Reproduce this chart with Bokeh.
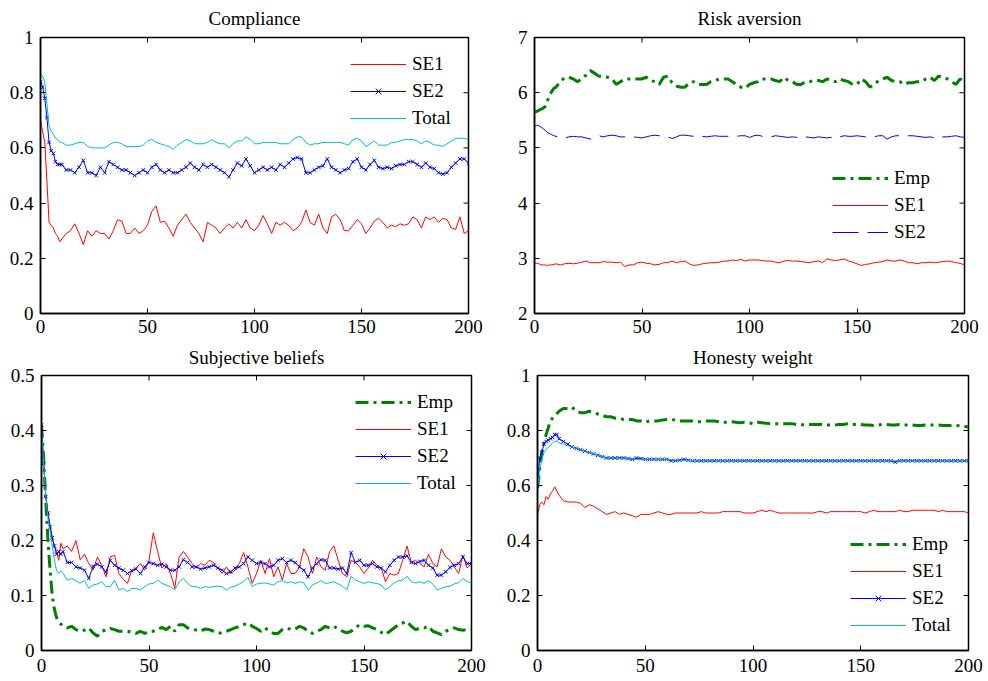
import math
from bokeh.plotting import figure
from bokeh.layouts import column, row
from bokeh.models import (Legend, LegendItem, FixedTicker,
                          CustomJSTickFormatter, Range1d)
from bokeh.embed import file_html
from bokeh.resources import INLINE

# ---------------- data ----------------
X = [0, 1, 2, 3, 4, 5, 6, 7, 8, 9, 10] + list(range(12, 201, 2))
x_ticks = [0, 50, 100, 150, 200]

# Compliance
comp_se1 = [0.70, 0.66, 0.62, 0.48, 0.33, 0.32, 0.31, 0.29, 0.28, 0.26, 0.27,
            0.29, 0.30, 0.325, 0.29, 0.25, 0.30, 0.28, 0.30, 0.29, 0.29,
            0.27, 0.30, 0.34, 0.335, 0.29, 0.29, 0.31, 0.29, 0.30, 0.32,
            0.37, 0.39, 0.33, 0.335, 0.31, 0.28, 0.32, 0.34, 0.36, 0.33,
            0.31, 0.29, 0.26, 0.33, 0.32, 0.31, 0.29, 0.31, 0.325, 0.31,
            0.33, 0.31, 0.34, 0.31, 0.30, 0.32, 0.355, 0.325, 0.29, 0.33,
            0.32, 0.33, 0.32, 0.30, 0.31, 0.33, 0.375, 0.33, 0.32, 0.36,
            0.31, 0.29, 0.35, 0.36, 0.34, 0.30, 0.30, 0.32, 0.34, 0.325,
            0.29, 0.31, 0.335, 0.345, 0.33, 0.31, 0.32, 0.315, 0.325, 0.32,
            0.325, 0.35, 0.34, 0.31, 0.35, 0.34, 0.35, 0.33, 0.345, 0.34,
            0.31, 0.305, 0.35, 0.29, 0.30]
comp_se2 = [0.84, 0.82, 0.78, 0.71, 0.62, 0.59, 0.58, 0.55, 0.54, 0.54, 0.54,
            0.52, 0.52, 0.51, 0.53, 0.555, 0.51, 0.51, 0.50, 0.53, 0.51,
            0.55, 0.54, 0.53, 0.52, 0.52, 0.51, 0.50, 0.51, 0.52, 0.51,
            0.53, 0.54, 0.52, 0.51, 0.52, 0.51, 0.51, 0.52, 0.53, 0.545,
            0.53, 0.52, 0.54, 0.53, 0.54, 0.53, 0.52, 0.51, 0.495, 0.52,
            0.545, 0.535, 0.56, 0.535, 0.51, 0.52, 0.53, 0.52, 0.53, 0.52,
            0.54, 0.53, 0.545, 0.56, 0.565, 0.56, 0.51, 0.51, 0.52, 0.53,
            0.535, 0.56, 0.53, 0.52, 0.51, 0.52, 0.525, 0.55, 0.56, 0.53,
            0.52, 0.54, 0.555, 0.53, 0.525, 0.53, 0.525, 0.535, 0.54, 0.54,
            0.55, 0.55, 0.54, 0.53, 0.545, 0.53, 0.525, 0.51, 0.505, 0.51,
            0.53, 0.545, 0.56, 0.56, 0.545]
comp_total = [0.87, 0.86, 0.84, 0.76, 0.68, 0.66, 0.65, 0.635, 0.63, 0.62, 0.62,
              0.61, 0.61, 0.615, 0.62, 0.62, 0.605, 0.60, 0.60, 0.60, 0.60,
              0.61, 0.62, 0.62, 0.615, 0.605, 0.605, 0.605, 0.605, 0.61, 0.625,
              0.63, 0.62, 0.615, 0.61, 0.605, 0.595, 0.61, 0.62, 0.63, 0.625,
              0.615, 0.615, 0.615, 0.62, 0.63, 0.62, 0.615, 0.615, 0.60, 0.615,
              0.625, 0.625, 0.64, 0.63, 0.615, 0.615, 0.62, 0.62, 0.62, 0.62,
              0.615, 0.615, 0.615, 0.63, 0.64, 0.64, 0.62, 0.61, 0.615, 0.615,
              0.62, 0.62, 0.62, 0.62, 0.62, 0.615, 0.61, 0.63, 0.635, 0.625,
              0.605, 0.615, 0.625, 0.61, 0.61, 0.61, 0.62, 0.62, 0.625, 0.63,
              0.63, 0.63, 0.625, 0.615, 0.625, 0.62, 0.61, 0.61, 0.605, 0.615,
              0.625, 0.635, 0.635, 0.635, 0.63]
comp_yticks = [0, 0.2, 0.4, 0.6, 0.8, 1]

# Risk aversion
risk_emp = [5.65, 5.66, 5.68, 5.70, 5.72, 5.75, 5.85, 5.95, 6.02, 6.08, 6.10,
            6.20, 6.27, 6.28, 6.25, 6.20, 6.25, 6.32, 6.40, 6.35, 6.30,
            6.30, 6.28, 6.25, 6.15, 6.20, 6.25, 6.25, 6.25, 6.25, 6.25,
            6.28, 6.22, 6.20, 6.15, 6.28, 6.30, 6.18, 6.12, 6.10, 6.10,
            6.18, 6.20, 6.15, 6.15, 6.15, 6.20, 6.22, 6.25, 6.25, 6.25,
            6.20, 6.15, 6.10, 6.08, 6.15, 6.18, 6.20, 6.25, 6.25, 6.25,
            6.22, 6.20, 6.28, 6.22, 6.20, 6.15, 6.15, 6.20, 6.20, 6.22,
            6.22, 6.20, 6.25, 6.22, 6.20, 6.25, 6.22, 6.20, 6.15, 6.15,
            6.25, 6.20, 6.10, 6.15, 6.22, 6.25, 6.28, 6.22, 6.20, 6.20,
            6.15, 6.18, 6.18, 6.20, 6.20, 6.25, 6.28, 6.22, 6.30, 6.28,
            6.25, 6.20, 6.15, 6.25, 6.20]
risk_se1 = [2.92, 2.91, 2.90, 2.88, 2.88, 2.88, 2.87, 2.88, 2.88, 2.89, 2.90,
            2.88, 2.90, 2.91, 2.90, 2.91, 2.93, 2.95, 2.92, 2.92, 2.92,
            2.94, 2.93, 2.93, 2.92, 2.93, 2.85, 2.88, 2.88, 2.92, 2.93,
            2.91, 2.90, 2.88, 2.89, 2.92, 2.92, 2.95, 2.92, 2.94, 2.95,
            2.90, 2.87, 2.88, 2.90, 2.91, 2.92, 2.92, 2.93, 2.95, 2.95,
            2.97, 2.96, 2.98, 2.95, 2.97, 2.97, 2.97, 2.96, 2.95, 2.95,
            2.93, 2.92, 2.95, 2.96, 2.95, 2.95, 2.94, 2.93, 2.92, 2.94,
            2.95, 2.92, 2.99, 2.97, 2.96, 2.97, 2.99, 2.95, 2.93, 2.90,
            2.87, 2.89, 2.90, 2.92, 2.93, 2.94, 2.97, 2.95, 2.95, 2.97,
            2.95, 2.92, 2.92, 2.90, 2.92, 2.92, 2.93, 2.92, 2.93, 2.94,
            2.95, 2.94, 2.92, 2.91, 2.88]
risk_se2 = [5.40, 5.41, 5.40, 5.38, 5.35, 5.32, 5.28, 5.26, 5.24, 5.22, 5.21,
            5.18, 5.18, 5.20, 5.21, 5.20, 5.20, 5.18, 5.16, 5.20, 5.22,
            5.20, 5.22, 5.23, 5.22, 5.20, 5.20, 5.21, 5.20, 5.19, 5.18,
            5.20, 5.22, 5.23, 5.22, 5.22, 5.20, 5.17, 5.20, 5.23, 5.23,
            5.22, 5.21, 5.20, 5.21, 5.20, 5.21, 5.22, 5.21, 5.21, 5.21,
            5.21, 5.21, 5.22, 5.22, 5.19, 5.22, 5.23, 5.21, 5.20, 5.20,
            5.22, 5.21, 5.20, 5.19, 5.20, 5.19, 5.18, 5.20, 5.19, 5.18,
            5.20, 5.19, 5.18, 5.19, 5.17, 5.20, 5.22, 5.21, 5.21, 5.22,
            5.21, 5.20, 5.19, 5.20, 5.22, 5.22, 5.16, 5.20, 5.22, 5.22,
            5.23, 5.22, 5.22, 5.21, 5.20, 5.19, 5.20, 5.18, 5.17, 5.20,
            5.20, 5.21, 5.22, 5.20, 5.19]
risk_yticks = [2, 3, 4, 5, 6, 7]

# Subjective beliefs
subj_emp = [0.41, 0.35, 0.27, 0.20, 0.145, 0.10, 0.075, 0.06, 0.052, 0.048, 0.045,
            0.041, 0.044, 0.038, 0.035, 0.037, 0.041, 0.032, 0.026, 0.035, 0.037,
            0.040, 0.038, 0.035, 0.035, 0.035, 0.033, 0.031, 0.035, 0.031, 0.035,
            0.035, 0.038, 0.042, 0.038, 0.044, 0.035, 0.047, 0.047, 0.041, 0.039,
            0.037, 0.035, 0.039, 0.038, 0.035, 0.032, 0.032, 0.035, 0.038, 0.041,
            0.044, 0.047, 0.050, 0.044, 0.040, 0.035, 0.041, 0.035, 0.031, 0.031,
            0.038, 0.041, 0.038, 0.039, 0.044, 0.041, 0.035, 0.031, 0.035, 0.038,
            0.044, 0.041, 0.044, 0.039, 0.035, 0.032, 0.035, 0.041, 0.047, 0.044,
            0.045, 0.041, 0.038, 0.033, 0.029, 0.035, 0.041, 0.047, 0.050, 0.053,
            0.044, 0.038, 0.041, 0.041, 0.044, 0.035, 0.032, 0.029, 0.035, 0.038,
            0.041, 0.038, 0.037, 0.038, 0.038]
subj_se1 = [0.41, 0.34, 0.28, 0.25, 0.225, 0.205, 0.19, 0.18, 0.164, 0.195, 0.185,
            0.19, 0.18, 0.20, 0.165, 0.175, 0.158, 0.146, 0.17, 0.155, 0.134,
            0.17, 0.173, 0.14, 0.13, 0.122, 0.146, 0.15, 0.158, 0.146, 0.164,
            0.214, 0.18, 0.15, 0.158, 0.14, 0.113, 0.17, 0.18, 0.17, 0.158,
            0.15, 0.158, 0.155, 0.164, 0.16, 0.15, 0.14, 0.152, 0.14, 0.146,
            0.158, 0.178, 0.152, 0.122, 0.14, 0.164, 0.14, 0.167, 0.134, 0.152,
            0.128, 0.158, 0.14, 0.14, 0.152, 0.185, 0.17, 0.14, 0.17, 0.152,
            0.146, 0.18, 0.19, 0.164, 0.14, 0.134, 0.164, 0.16, 0.152, 0.14,
            0.15, 0.164, 0.155, 0.15, 0.125, 0.14, 0.137, 0.14, 0.164, 0.19,
            0.16, 0.164, 0.158, 0.152, 0.175, 0.158, 0.152, 0.185, 0.17, 0.164,
            0.152, 0.14, 0.173, 0.15, 0.158]
subj_se2 = [0.41, 0.34, 0.28, 0.25, 0.225, 0.205, 0.19, 0.175, 0.18, 0.175, 0.18,
            0.16, 0.16, 0.152, 0.15, 0.146, 0.131, 0.153, 0.157, 0.152, 0.143,
            0.164, 0.155, 0.15, 0.146, 0.14, 0.145, 0.148, 0.14, 0.152, 0.16,
            0.158, 0.155, 0.157, 0.152, 0.146, 0.146, 0.152, 0.165, 0.16, 0.152,
            0.152, 0.148, 0.15, 0.152, 0.155, 0.15, 0.146, 0.14, 0.143, 0.15,
            0.152, 0.158, 0.17, 0.164, 0.158, 0.16, 0.158, 0.152, 0.155, 0.164,
            0.167, 0.16, 0.164, 0.16, 0.152, 0.146, 0.134, 0.15, 0.158, 0.165,
            0.164, 0.15, 0.15, 0.148, 0.15, 0.14, 0.178, 0.16, 0.164, 0.155,
            0.155, 0.158, 0.152, 0.15, 0.143, 0.155, 0.164, 0.17, 0.17, 0.172,
            0.16, 0.158, 0.162, 0.164, 0.155, 0.15, 0.137, 0.137, 0.143, 0.151,
            0.155, 0.158, 0.17, 0.158, 0.158]
subj_total = [0.40, 0.34, 0.28, 0.24, 0.215, 0.19, 0.165, 0.145, 0.14, 0.145, 0.14,
              0.128, 0.131, 0.127, 0.122, 0.127, 0.113, 0.119, 0.121, 0.125, 0.116,
              0.116, 0.128, 0.11, 0.113, 0.107, 0.113, 0.113, 0.11, 0.116, 0.121,
              0.122, 0.128, 0.122, 0.119, 0.116, 0.11, 0.125, 0.131, 0.122, 0.116,
              0.116, 0.113, 0.116, 0.115, 0.116, 0.117, 0.116, 0.11, 0.115, 0.117,
              0.121, 0.125, 0.133, 0.116, 0.121, 0.122, 0.123, 0.121, 0.119, 0.125,
              0.127, 0.123, 0.125, 0.122, 0.125, 0.123, 0.11, 0.119, 0.123, 0.127,
              0.122, 0.123, 0.125, 0.121, 0.117, 0.11, 0.135, 0.128, 0.125, 0.122,
              0.125, 0.123, 0.122, 0.119, 0.11, 0.116, 0.123, 0.127, 0.128, 0.135,
              0.125, 0.123, 0.125, 0.122, 0.127, 0.121, 0.11, 0.113, 0.116, 0.117,
              0.121, 0.123, 0.131, 0.125, 0.123]
subj_yticks = [0, 0.1, 0.2, 0.3, 0.4, 0.5]

# Honesty weight
hon_emp = [0.59, 0.66, 0.72, 0.755, 0.785, 0.81, 0.835, 0.845, 0.855, 0.862, 0.87,
           0.88, 0.88, 0.885, 0.87, 0.865, 0.865, 0.87, 0.865, 0.86, 0.855,
           0.85, 0.85, 0.845, 0.845, 0.84, 0.84, 0.84, 0.835, 0.835, 0.83,
           0.835, 0.835, 0.835, 0.838, 0.84, 0.84, 0.838, 0.835, 0.835, 0.835,
           0.835, 0.832, 0.832, 0.835, 0.835, 0.835, 0.832, 0.83, 0.83, 0.832,
           0.83, 0.828, 0.83, 0.828, 0.825, 0.83, 0.828, 0.826, 0.825, 0.825,
           0.825, 0.825, 0.825, 0.825, 0.822, 0.822, 0.82, 0.822, 0.822, 0.822,
           0.822, 0.82, 0.82, 0.82, 0.822, 0.822, 0.825, 0.822, 0.822, 0.822,
           0.82, 0.82, 0.818, 0.82, 0.822, 0.822, 0.82, 0.82, 0.822, 0.82,
           0.82, 0.82, 0.818, 0.818, 0.82, 0.82, 0.82, 0.82, 0.818, 0.818,
           0.818, 0.818, 0.817, 0.815, 0.813]
hon_se1 = [0.49, 0.53, 0.54, 0.53, 0.56, 0.55, 0.57, 0.58, 0.595, 0.58, 0.565,
           0.545, 0.54, 0.54, 0.54, 0.535, 0.52, 0.53, 0.525, 0.515, 0.505,
           0.495, 0.50, 0.505, 0.495, 0.50, 0.495, 0.49, 0.485, 0.495, 0.495,
           0.495, 0.50, 0.505, 0.50, 0.495, 0.495, 0.50, 0.50, 0.50, 0.50,
           0.50, 0.50, 0.505, 0.50, 0.50, 0.50, 0.50, 0.505, 0.505, 0.505,
           0.505, 0.505, 0.50, 0.50, 0.50, 0.505, 0.51, 0.505, 0.51, 0.505,
           0.50, 0.50, 0.50, 0.50, 0.50, 0.50, 0.50, 0.50, 0.50, 0.505,
           0.505, 0.50, 0.505, 0.505, 0.505, 0.505, 0.505, 0.505, 0.505, 0.505,
           0.50, 0.505, 0.51, 0.505, 0.505, 0.505, 0.505, 0.505, 0.51, 0.505,
           0.505, 0.51, 0.51, 0.51, 0.51, 0.51, 0.51, 0.505, 0.51, 0.505,
           0.505, 0.505, 0.505, 0.505, 0.50]
hon_se2 = [0.60, 0.70, 0.72, 0.75, 0.76, 0.765, 0.77, 0.775, 0.785, 0.785, 0.77,
           0.76, 0.75, 0.74, 0.735, 0.73, 0.725, 0.72, 0.715, 0.71, 0.705,
           0.70, 0.70, 0.70, 0.70, 0.70, 0.698, 0.695, 0.70, 0.698, 0.695,
           0.695, 0.695, 0.695, 0.695, 0.695, 0.69, 0.69, 0.692, 0.695, 0.692,
           0.69, 0.69, 0.69, 0.69, 0.69, 0.69, 0.69, 0.69, 0.69, 0.69,
           0.69, 0.69, 0.69, 0.69, 0.69, 0.69, 0.69, 0.69, 0.69, 0.69,
           0.69, 0.69, 0.69, 0.69, 0.69, 0.69, 0.69, 0.69, 0.69, 0.69,
           0.69, 0.69, 0.69, 0.69, 0.69, 0.69, 0.69, 0.69, 0.69, 0.69,
           0.69, 0.69, 0.69, 0.69, 0.69, 0.69, 0.69, 0.685, 0.69, 0.69,
           0.69, 0.69, 0.69, 0.69, 0.69, 0.69, 0.69, 0.69, 0.69, 0.69,
           0.69, 0.69, 0.69, 0.69, 0.69]
hon_total = [0.58, 0.66, 0.69, 0.72, 0.73, 0.74, 0.745, 0.755, 0.76, 0.76, 0.755,
             0.75, 0.745, 0.74, 0.735, 0.73, 0.725, 0.72, 0.715, 0.71, 0.705,
             0.70, 0.70, 0.70, 0.698, 0.698, 0.697, 0.696, 0.695, 0.695, 0.695,
             0.695, 0.695, 0.695, 0.694, 0.694, 0.693, 0.692, 0.692, 0.692, 0.691,
             0.691, 0.69, 0.69, 0.69, 0.69, 0.69, 0.69, 0.69, 0.69, 0.69,
             0.69, 0.69, 0.69, 0.69, 0.69, 0.69, 0.69, 0.69, 0.69, 0.69,
             0.69, 0.69, 0.69, 0.69, 0.69, 0.69, 0.69, 0.69, 0.69, 0.69,
             0.69, 0.69, 0.69, 0.69, 0.69, 0.69, 0.69, 0.69, 0.69, 0.69,
             0.69, 0.69, 0.69, 0.69, 0.69, 0.69, 0.69, 0.69, 0.69, 0.69,
             0.69, 0.69, 0.69, 0.69, 0.69, 0.69, 0.69, 0.69, 0.69, 0.69,
             0.69, 0.69, 0.69, 0.69, 0.69]
hon_yticks = [0, 0.2, 0.4, 0.6, 0.8, 1]

# ---------------- styling ----------------
FONT = "Liberation Serif"
FS = "19px"
RED = "#FF0000"
BLUE = "#0000FF"
CYAN = "#00BFBF"
GREEN = "#008000"
EMP_DASH = "13 5 3 5"
FMT = CustomJSTickFormatter(code="return String(Math.round(tick*1000)/1000);")


def style_axis(ax, ticks, standoff):
    ax.ticker = FixedTicker(ticks=ticks)
    ax.formatter = FMT
    ax.major_tick_in = 5
    ax.major_tick_out = 0
    ax.minor_tick_line_color = None
    ax.axis_line_color = "black"
    ax.axis_line_width = 1.5
    ax.major_tick_line_color = "black"
    ax.major_tick_line_width = 1
    ax.major_label_text_font = FONT
    ax.major_label_text_color = "black"
    ax.major_label_text_font_size = FS
    ax.major_label_standoff = standoff


def make_fig(title, ylo, yhi, yticks, bl, br, fw, fh, bt, bb, t_standoff, x_standoff):
    p = figure(frame_width=fw, frame_height=fh,
               x_range=Range1d(0, 200), y_range=Range1d(ylo, yhi),
               output_backend="svg", toolbar_location=None,
               min_border_left=bl, min_border_right=br,
               min_border_top=bt, min_border_bottom=bb)
    p.title.text = title
    p.title.align = "center"
    p.title.vertical_align = "top"
    p.title.text_font = FONT
    p.title.text_font_size = FS
    p.title.text_font_style = "normal"
    p.title.text_color = "black"
    p.title.standoff = t_standoff
    p.xgrid.visible = False
    p.ygrid.visible = False
    p.outline_line_color = "black"
    p.outline_line_width = 1.5
    p.background_fill_color = "white"
    p.border_fill_color = "white"
    style_axis(p.xaxis[0], x_ticks, x_standoff)
    style_axis(p.yaxis[0], yticks, 7)
    # inward tick marks on the top and right frame edges (clipped to the frame)
    p.scatter(x_ticks, [yhi] * len(x_ticks), marker="dash", size=10,
              angle=math.pi / 2, line_color="black", line_width=1)
    p.scatter([200] * len(yticks), yticks, marker="dash", size=10,
              angle=0, line_color="black", line_width=1)
    return p


def add_legend(p, items, loc):
    lg = Legend(items=items, location=loc)
    lg.padding = 0
    lg.margin = 0
    lg.spacing = 5
    lg.glyph_width = 56
    lg.glyph_height = 20
    lg.label_height = 20
    lg.label_standoff = 6
    lg.label_text_font = FONT
    lg.label_text_font_size = FS
    lg.label_text_color = "black"
    lg.background_fill_alpha = 0
    lg.border_line_color = None
    p.add_layout(lg)


# --- Compliance ---
p1 = make_fig("Compliance", 0, 1, comp_yticks, 40, 26, 428, 276, 37, 27, 13, 6)
r1 = p1.line(X, comp_se1, line_color=RED, line_width=1)
r2 = p1.line(X, comp_se2, line_color=BLUE, line_width=1)
r2m = p1.scatter(X, comp_se2, marker="x", size=5, line_color=BLUE, line_width=1)
r3 = p1.line(X, comp_total, line_color=CYAN, line_width=1)
add_legend(p1, [LegendItem(label="SE1", renderers=[r1]),
                LegendItem(label="SE2", renderers=[r2, r2m]),
                LegendItem(label="Total", renderers=[r3])], (310, 184))

# --- Risk aversion ---
p2 = make_fig("Risk aversion", 2, 7, risk_yticks, 40, 20, 430, 276, 37, 27, 13, 6)
q1 = p2.line(X, risk_emp, line_color=GREEN, line_width=3, line_dash=EMP_DASH)
q2 = p2.line(X, risk_se1, line_color=RED, line_width=1)
q3 = p2.line(X, risk_se2, line_color=BLUE, line_width=1, line_dash="26 9")
add_legend(p2, [LegendItem(label="Emp", renderers=[q1]),
                LegendItem(label="SE1", renderers=[q2]),
                LegendItem(label="SE2", renderers=[q3])], (298, 70))

# --- Subjective beliefs ---
p3 = make_fig("Subjective beliefs", 0, 0.5, subj_yticks, 41, 23, 430, 275, 35, 25, 11, 8)
s1 = p3.line(X, subj_emp, line_color=GREEN, line_width=3, line_dash=EMP_DASH)
s2 = p3.line(X, subj_se1, line_color=RED, line_width=1)
s3 = p3.line(X, subj_se2, line_color=BLUE, line_width=1)
s3m = p3.scatter(X, subj_se2, marker="x", size=5, line_color=BLUE, line_width=1)
s4 = p3.line(X, subj_total, line_color=CYAN, line_width=1)
add_legend(p3, [LegendItem(label="Emp", renderers=[s1]),
                LegendItem(label="SE1", renderers=[s2]),
                LegendItem(label="SE2", renderers=[s3, s3m]),
                LegendItem(label="Total", renderers=[s4])], (314, 156))

# --- Honesty weight ---
p4 = make_fig("Honesty weight", 0, 1, hon_yticks, 43, 16, 431, 275, 35, 25, 11, 8)
h1 = p4.line(X, hon_emp, line_color=GREEN, line_width=3, line_dash=EMP_DASH)
h2 = p4.line(X, hon_se1, line_color=RED, line_width=1)
h3 = p4.line(X, hon_se2, line_color=BLUE, line_width=1)
h3m = p4.scatter(X, hon_se2, marker="x", size=5, line_color=BLUE, line_width=1)
h4 = p4.line(X, hon_total, line_color=CYAN, line_width=1)
add_legend(p4, [LegendItem(label="Emp", renderers=[h1]),
                LegendItem(label="SE1", renderers=[h2]),
                LegendItem(label="SE2", renderers=[h3, h3m]),
                LegendItem(label="Total", renderers=[h4])], (313, 14))

layout = column(row(p1, p2), row(p3, p4))

with open("out.html", "w") as f:
    f.write(file_html(layout, INLINE))
